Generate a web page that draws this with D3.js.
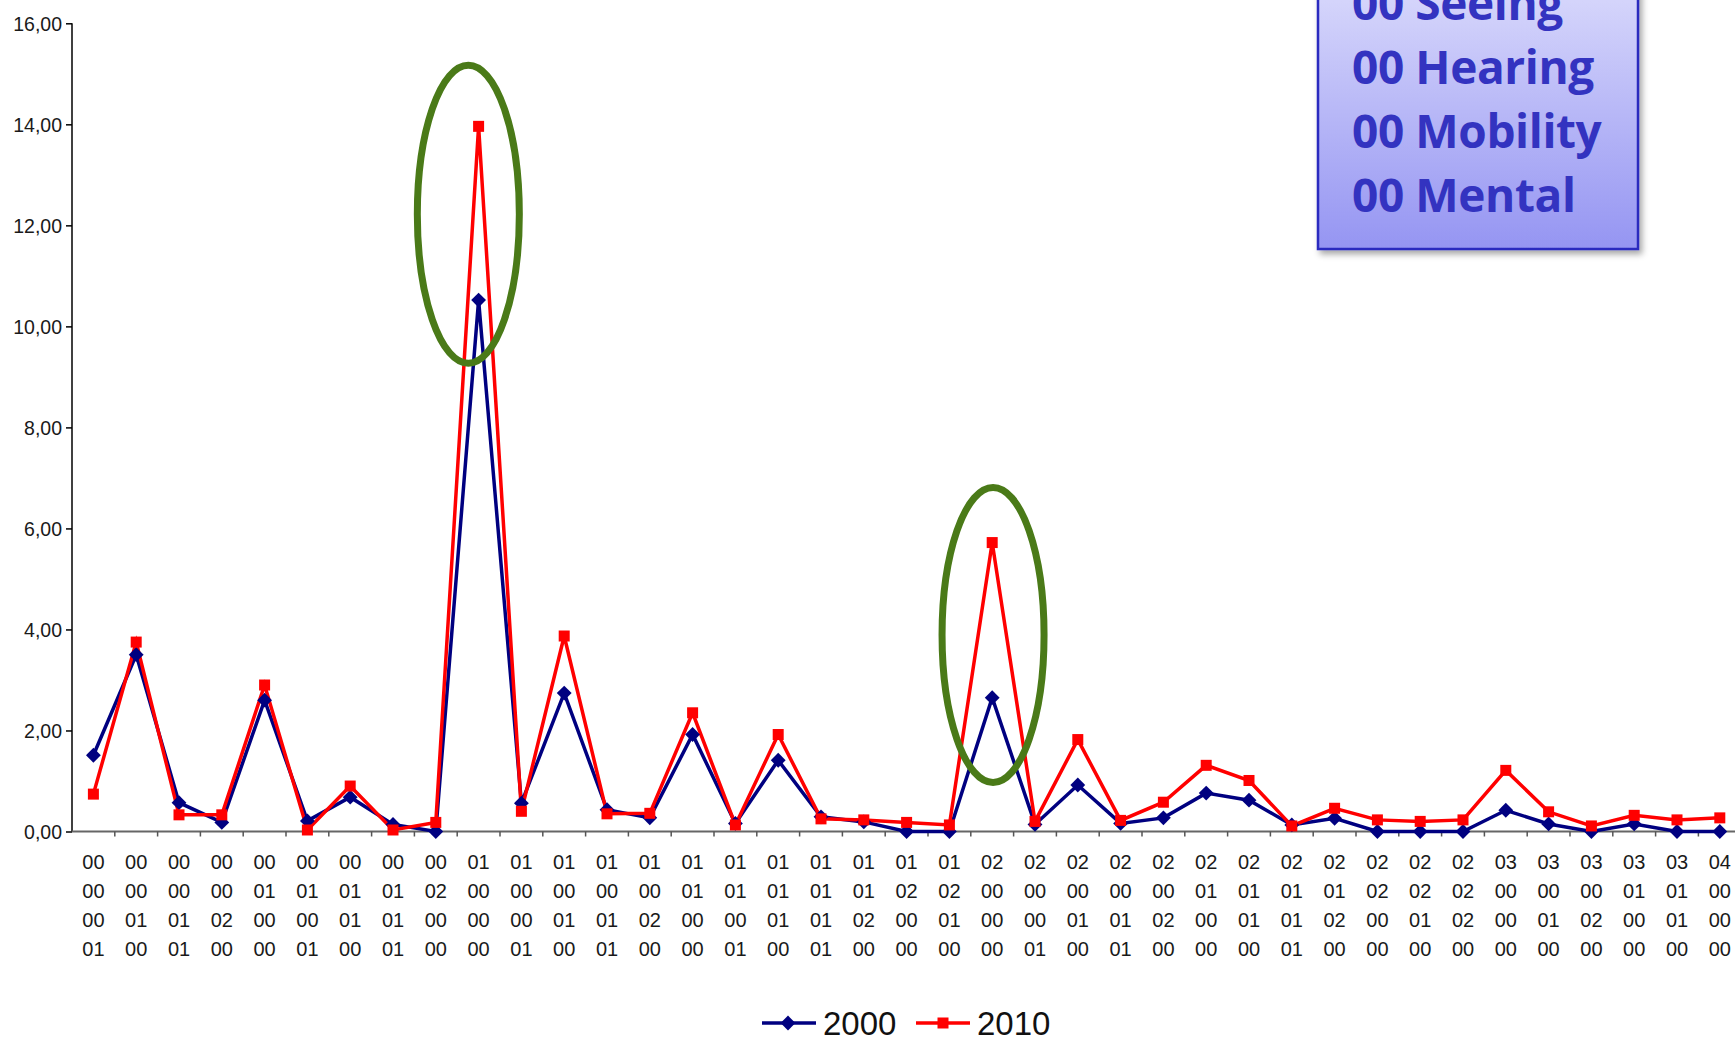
<!DOCTYPE html>
<html>
<head>
<meta charset="utf-8">
<script src="https://cdn.jsdelivr.net/npm/d3@7"></script>
<style>
  body { margin: 0; background: #fff; overflow: hidden; }
  svg { display: block; }
  .tick text { font-family: "Liberation Sans", Arial, sans-serif; fill: #1a1a1a; }
</style>
</head>
<body>
<div id="vizContainer"></div>
<script>
// category codes: seeing / hearing / mobility / mental
var categories = [
  "00 00 00 01", "00 00 01 00", "00 00 01 01", "00 00 02 00", "00 01 00 00",
  "00 01 00 01", "00 01 01 00", "00 01 01 01", "00 02 00 00", "01 00 00 00",
  "01 00 00 01", "01 00 01 00", "01 00 01 01", "01 00 02 00", "01 01 00 00",
  "01 01 00 01", "01 01 01 00", "01 01 01 01", "01 01 02 00", "01 02 00 00",
  "01 02 01 00", "02 00 00 00", "02 00 00 01", "02 00 01 00", "02 00 01 01",
  "02 00 02 00", "02 01 00 00", "02 01 01 00", "02 01 01 01", "02 01 02 00",
  "02 02 00 00", "02 02 01 00", "02 02 02 00", "03 00 00 00", "03 00 01 00",
  "03 00 02 00", "03 01 00 00", "03 01 01 00", "04 00 00 00"
];

var values2000 = [
  1.51, 3.50, 0.57, 0.18, 2.60, 0.21, 0.68, 0.14, 0.00, 10.52,
  0.56, 2.74, 0.43, 0.27, 1.92, 0.16, 1.41, 0.29, 0.19, 0.00,
  0.00, 2.65, 0.14, 0.92, 0.16, 0.27, 0.76, 0.62, 0.13, 0.26,
  0.00, 0.00, 0.00, 0.42, 0.15, 0.00, 0.15, 0.00, 0.00
];

var values2010 = [
  0.74, 3.75, 0.33, 0.33, 2.90, 0.03, 0.90, 0.03, 0.18, 13.96,
  0.40, 3.87, 0.35, 0.36, 2.35, 0.13, 1.92, 0.25, 0.23, 0.18,
  0.13, 5.72, 0.20, 1.82, 0.22, 0.58, 1.31, 1.01, 0.11, 0.46,
  0.23, 0.20, 0.23, 1.21, 0.39, 0.11, 0.32, 0.23, 0.27
];

var yTicks = [0, 2, 4, 6, 8, 10, 12, 14, 16];
var seriesNames = ["2000", "2010"];
var boxLines = ["00 Seeing", "00 Hearing", "00 Mobility", "00 Mental"];

// highlighted peaks: category index, shift in bands, centre value, half height in value units
var highlights = [
  { idx: 9, shift: -0.24, value: 12.22, half: 2.95 },
  { idx: 21, shift: 0.02, value: 3.89, half: 2.92 }
];

var width = 1735;
var height = 1039;

var svg = d3.select("#vizContainer").append("svg")
    .attr("width", width)
    .attr("height", height);

var x = d3.scaleBand()
    .domain(categories)
    .range([72, 72 + 39 * 42.8]);

var y = d3.scaleLinear()
    .domain([0, 16])
    .range([831.5, 23.3]);

var fmt = function(d) { return d3.format(".2f")(d).replace(".", ","); };

// y axis
var yAxis = svg.append("g")
    .attr("transform", "translate(72,0)")
    .call(d3.axisLeft(y).tickValues(yTicks).tickFormat(fmt)
      .tickSize(6).tickPadding(4));
yAxis.select(".domain").attr("stroke", "#000").attr("stroke-width", 1.5)
    .attr("d", "M0," + y(16) + "V" + y(0));
yAxis.selectAll(".tick line").attr("stroke", "#000").attr("stroke-width", 1.5);
yAxis.selectAll(".tick text").style("font-size", "19.5px").attr("dy", "0.36em");

// x axis: ticks at band edges, labels in four rows
var xAxis = svg.append("g")
    .attr("transform", "translate(0," + y(0) + ")");

xAxis.append("line")
    .attr("x1", 72).attr("x2", width)
    .attr("y1", 0).attr("y2", 0)
    .attr("stroke", "#666").attr("stroke-width", 2);

xAxis.selectAll(".xtick").data(categories).enter()
  .append("line")
    .attr("class", "xtick")
    .attr("x1", function(d) { return x(d) + x.bandwidth(); })
    .attr("x2", function(d) { return x(d) + x.bandwidth(); })
    .attr("y1", 0).attr("y2", 5)
    .attr("stroke", "#555").attr("stroke-width", 1.5);

var labels = xAxis.selectAll(".xlabel").data(categories).enter()
  .append("text")
    .attr("class", "xlabel")
    .attr("text-anchor", "middle")
    .style("font-family", "'Liberation Sans', Arial, sans-serif")
    .style("font-size", "20px")
    .style("fill", "#1a1a1a");

labels.selectAll("tspan")
    .data(function(d) { return d.split(" "); })
    .enter().append("tspan")
    .attr("x", function() { return x(this.parentNode.__data__) + x.bandwidth() / 2; })
    .attr("y", function(d, i) { return 37 + i * 29; })
    .text(function(d) { return d; });

// lines and markers
var line = d3.line()
    .x(function(d, i) { return x(categories[i]) + x.bandwidth() / 2; })
    .y(function(d) { return y(d); });

svg.append("path")
    .datum(values2000)
    .attr("fill", "none")
    .attr("stroke", "#000080")
    .attr("stroke-width", 3.5)
    .attr("d", line);

svg.append("path")
    .datum(values2010)
    .attr("fill", "none")
    .attr("stroke", "#ff0000")
    .attr("stroke-width", 3.5)
    .attr("d", line);

var diamond = d3.symbol().type(d3.symbolDiamond2).size(140);

svg.selectAll(".m2000").data(values2000).enter()
  .append("path")
    .attr("class", "m2000")
    .attr("d", diamond)
    .attr("fill", "#000080")
    .attr("transform", function(d, i) {
      return "translate(" + (x(categories[i]) + x.bandwidth() / 2) + "," + y(d) + ")";
    });

svg.selectAll(".m2010").data(values2010).enter()
  .append("rect")
    .attr("class", "m2010")
    .attr("width", 11).attr("height", 11)
    .attr("fill", "#ff0000")
    .attr("x", function(d, i) { return x(categories[i]) + x.bandwidth() / 2 - 5.5; })
    .attr("y", function(d) { return y(d) - 5.5; });

// green ellipses around the peaks
svg.selectAll(".peak").data(highlights).enter()
  .append("ellipse")
    .attr("class", "peak")
    .attr("cx", function(d) {
      return x(categories[d.idx]) + x.bandwidth() * (0.5 + d.shift);
    })
    .attr("cy", function(d) { return y(d.value); })
    .attr("rx", 51)
    .attr("ry", function(d) { return y(0) - y(d.half); })
    .attr("fill", "none")
    .attr("stroke", "#4a7a18")
    .attr("stroke-width", 7);

// blue code box, top right
var defs = svg.append("defs");
var grad = defs.append("linearGradient")
    .attr("id", "boxGrad")
    .attr("x1", 0).attr("y1", 0).attr("x2", 0).attr("y2", 1);
grad.append("stop").attr("offset", "0%").attr("stop-color", "#dcdcfc");
grad.append("stop").attr("offset", "100%").attr("stop-color", "#9595f2");

var shadow = defs.append("filter")
    .attr("id", "boxShadow")
    .attr("x", "-10%").attr("y", "-10%")
    .attr("width", "130%").attr("height", "130%");
shadow.append("feDropShadow")
    .attr("dx", 3).attr("dy", 4)
    .attr("stdDeviation", 3)
    .attr("flood-color", "#000")
    .attr("flood-opacity", 0.35);

svg.append("rect")
    .attr("x", 1318).attr("y", -30)
    .attr("width", 320).attr("height", 279)
    .attr("fill", "url(#boxGrad)")
    .attr("stroke", "#2a2abf")
    .attr("stroke-width", 2.5)
    .attr("filter", "url(#boxShadow)");

svg.selectAll(".boxText").data(boxLines).enter()
  .append("text")
    .attr("class", "boxText")
    .attr("x", 1352)
    .attr("y", function(d, i) { return 20 + i * 64; })
    .style("font-family", "'Open Sans', sans-serif")
    .style("font-weight", "bold")
    .style("font-size", "46px")
    .style("letter-spacing", "-0.4px")
    .style("fill", "#3333c0")
    .text(function(d) { return d; });

// bottom legend
var legend = svg.append("g");
var legX = [762, 916];

legend.selectAll(".legLine").data(seriesNames).enter()
  .append("line")
    .attr("class", "legLine")
    .attr("x1", function(d, i) { return legX[i]; })
    .attr("x2", function(d, i) { return legX[i] + 54; })
    .attr("y1", 1023).attr("y2", 1023)
    .attr("stroke", function(d, i) { return i == 0 ? "#000080" : "#ff0000"; })
    .attr("stroke-width", 3.5);

legend.append("path")
    .attr("d", diamond)
    .attr("fill", "#000080")
    .attr("transform", "translate(" + (legX[0] + 26) + ",1023)");

legend.append("rect")
    .attr("x", legX[1] + 27 - 5.5).attr("y", 1023 - 5.5)
    .attr("width", 11).attr("height", 11)
    .attr("fill", "#ff0000");

legend.selectAll(".legText").data(seriesNames).enter()
  .append("text")
    .attr("class", "legText")
    .attr("x", function(d, i) { return legX[i] + 61; })
    .attr("y", 1035)
    .style("font-family", "'Liberation Sans', Arial, sans-serif")
    .style("font-size", "33px")
    .style("fill", "#111")
    .text(function(d) { return d; });
</script>
</body>
</html>
